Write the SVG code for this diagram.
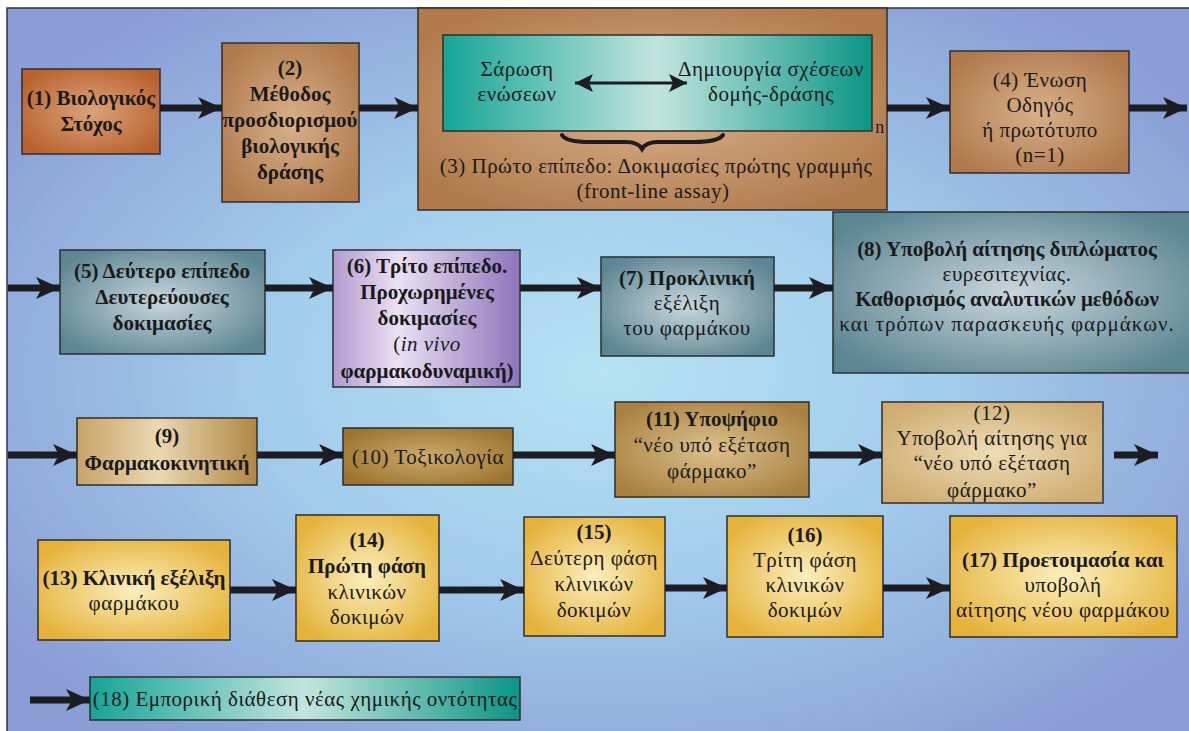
<svg xmlns="http://www.w3.org/2000/svg" width="1189" height="731" viewBox="0 0 1189 731">
<style>
.t{font-family:"Liberation Serif",serif;font-size:21px;letter-spacing:0.5px;fill:#1a1a1a;text-anchor:middle}
.b{font-weight:bold;letter-spacing:0}
.box{stroke:#2e2e2e;stroke-width:1.5}
.con{stroke:#1c1c22;stroke-width:7;fill:none;marker-end:url(#ah)}
</style>
<defs>
<radialGradient id="bg" cx="0.5" cy="0.5" r="0.62">
<stop offset="0" stop-color="#b6e2f4"/><stop offset="0.45" stop-color="#a3cdec"/><stop offset="1" stop-color="#8a9dd5"/>
</radialGradient>
<radialGradient id="g1" cx="0.5" cy="0.5" r="0.6"><stop offset="0" stop-color="#dca27a"/><stop offset="1" stop-color="#b9622e"/></radialGradient>
<radialGradient id="gTan" cx="0.5" cy="0.5" r="0.6"><stop offset="0" stop-color="#d9b08a"/><stop offset="1" stop-color="#b07a4c"/></radialGradient>
<linearGradient id="gTeal" x1="0" y1="0" x2="1" y2="0"><stop offset="0" stop-color="#16a596"/><stop offset="0.5" stop-color="#c2e5de"/><stop offset="1" stop-color="#0a9585"/></linearGradient>
<radialGradient id="gSlate" cx="0.5" cy="0.5" r="0.6"><stop offset="0" stop-color="#c9d6dc"/><stop offset="1" stop-color="#5d8693"/></radialGradient>
<linearGradient id="gPurple" x1="0" y1="0" x2="1" y2="0"><stop offset="0" stop-color="#b29cd0"/><stop offset="0.35" stop-color="#ebe0f2"/><stop offset="1" stop-color="#8d74bc"/></linearGradient>
<linearGradient id="g9" x1="0" y1="0" x2="1" y2="0"><stop offset="0" stop-color="#c7a367"/><stop offset="0.45" stop-color="#ebd8b2"/><stop offset="1" stop-color="#b08744"/></linearGradient>
<radialGradient id="g10" cx="0.5" cy="0.5" r="0.6"><stop offset="0" stop-color="#ccab6c"/><stop offset="1" stop-color="#9c7430"/></radialGradient>
<radialGradient id="g11" cx="0.5" cy="0.5" r="0.6"><stop offset="0" stop-color="#dcc08c"/><stop offset="1" stop-color="#a98242"/></radialGradient>
<radialGradient id="g12" cx="0.5" cy="0.5" r="0.6"><stop offset="0" stop-color="#eedbb6"/><stop offset="1" stop-color="#cfad72"/></radialGradient>
<radialGradient id="gGold" cx="0.5" cy="0.5" r="0.6"><stop offset="0" stop-color="#fbefbd"/><stop offset="1" stop-color="#e5b23a"/></radialGradient>
<marker id="ah" markerUnits="userSpaceOnUse" markerWidth="26" markerHeight="24" refX="24" refY="12" orient="auto">
<path d="M0,1 L24,12 L0,23 L6,12 z" fill="#1c1c22"/>
</marker>
<marker id="ah2" markerUnits="userSpaceOnUse" markerWidth="20" markerHeight="18" refX="18" refY="9" orient="auto-start-reverse">
<path d="M0,0 L18,9 L0,18 L4,9 z" fill="#1c1c22"/>
</marker>
</defs>
<rect x="0" y="0" width="1189" height="731" fill="#ffffff"/>
<rect x="7" y="8" width="1190" height="730" fill="url(#bg)" stroke="#2a3550" stroke-width="1.5"/>

<g id="n1"><rect class="box" x="22" y="69" width="138" height="85" fill="url(#g1)"/>
<text class="t b" x="91" y="105">(1) Βιολογικός</text><text class="t b" x="91" y="131">Στόχος</text></g>

<g id="n2"><rect class="box" x="222" y="43" width="137" height="159" fill="url(#gTan)"/>
<text class="t b" x="290" y="75">(2)</text><text class="t b" x="290" y="101">Μέθοδος</text><text class="t b" x="290" y="127">προσδιορισμού</text><text class="t b" x="290" y="153">βιολογικής</text><text class="t b" x="290" y="179">δράσης</text></g>

<g id="n3"><rect class="box" x="418" y="8" width="469" height="202" fill="url(#gTan)"/>
<rect class="box" x="443" y="35" width="429" height="96" fill="url(#gTeal)"/>
<text class="t" x="517" y="76">Σάρωση</text><text class="t" x="517" y="101">ενώσεων</text>
<text class="t" x="771" y="76">Δημιουργία σχέσεων</text><text class="t" x="771" y="101">δομής-δράσης</text>
<line x1="575" y1="83" x2="687" y2="83" stroke="#1c1c22" stroke-width="3" marker-start="url(#ah2)" marker-end="url(#ah2)"/>
<path d="M562,135 Q566,142 590,142 L626,142 Q638,142 642,149 Q646,142 658,142 L694,142 Q718,142 723,135" fill="none" stroke="#1c1c22" stroke-width="4" stroke-linecap="round"/>
<text class="t" x="880" y="133" style="font-size:18px">n</text>
<text class="t" x="656" y="173">(3) Πρώτο επίπεδο: Δοκιμασίες πρώτης γραμμής</text>
<text class="t" x="653" y="198">(front-line assay)</text></g>

<g id="n4"><rect class="box" x="950" y="51" width="179" height="122" fill="url(#gTan)"/>
<text class="t" x="1040" y="87">(4) Ένωση</text><text class="t" x="1040" y="112">Οδηγός</text><text class="t" x="1040" y="137">ή πρωτότυπο</text><text class="t" x="1040" y="162">(n=1)</text></g>

<g id="n5"><rect class="box" x="60" y="250" width="205" height="104" fill="url(#gSlate)"/>
<text class="t b" x="162" y="278">(5) Δεύτερο επίπεδο</text><text class="t b" x="162" y="304">Δευτερεύουσες</text><text class="t b" x="162" y="330">δοκιμασίες</text></g>

<g id="n6"><rect class="box" x="333" y="250" width="187" height="137" fill="url(#gPurple)"/>
<text class="t b" x="427" y="273">(6) Τρίτο επίπεδο.</text><text class="t b" x="427" y="299">Προχωρημένες</text><text class="t b" x="427" y="325">δοκιμασίες</text><text class="t" x="427" y="351">(<tspan font-style="italic">in vivo</tspan></text><text class="t b" x="427" y="378">φαρμακοδυναμική)</text></g>

<g id="n7"><rect class="box" x="601" y="257" width="173" height="99" fill="url(#gSlate)"/>
<text class="t b" x="687" y="285">(7) Προκλινική</text><text class="t" x="687" y="310">εξέλιξη</text><text class="t" x="687" y="335">του φαρμάκου</text></g>

<g id="n8"><rect class="box" x="833" y="212" width="360" height="161" fill="url(#gSlate)"/>
<text class="t b" x="1007" y="256">(8) Υποβολή αίτησης διπλώματος</text><text class="t" x="1007" y="281">ευρεσιτεχνίας.</text><text class="t b" x="1007" y="306">Καθορισμός αναλυτικών μεθόδων</text><text class="t" x="1007" y="331" style="letter-spacing:1px">και τρόπων παρασκευής φαρμάκων.</text></g>

<g id="n9"><rect class="box" x="77" y="418" width="180" height="67" fill="url(#g9)"/>
<text class="t b" x="167" y="443">(9)</text><text class="t b" x="167" y="470">Φαρμακοκινητική</text></g>

<g id="n10"><rect class="box" x="343" y="428" width="170" height="57" fill="url(#g10)"/>
<text class="t" x="428" y="464">(10) Τοξικολογία</text></g>

<g id="n11"><rect class="box" x="615" y="402" width="194" height="95" fill="url(#g11)"/>
<text class="t b" x="712" y="426">(11) Υποψήφιο</text><text class="t" x="712" y="452">“νέο υπό εξέταση</text><text class="t" x="712" y="478">φάρμακο”</text></g>

<g id="n12"><rect class="box" x="882" y="402" width="221" height="101" fill="url(#g12)"/>
<text class="t" x="992" y="420">(12)</text><text class="t" x="992" y="445">Υποβολή αίτησης για</text><text class="t" x="992" y="470">“νέο υπό εξέταση</text><text class="t" x="992" y="497">φάρμακο”</text></g>

<g id="n13"><rect class="box" x="38" y="540" width="192" height="100" fill="url(#gGold)"/>
<text class="t b" x="134" y="585">(13) Κλινική εξέλιξη</text><text class="t" x="134" y="610">φαρμάκου</text></g>

<g id="n14"><rect class="box" x="296" y="515" width="143" height="126" fill="url(#gGold)"/>
<text class="t b" x="367" y="547">(14)</text><text class="t b" x="367" y="573">Πρώτη φάση</text><text class="t" x="367" y="599">κλινικών</text><text class="t" x="367" y="624">δοκιμών</text></g>

<g id="n15"><rect class="box" x="524" y="517" width="141" height="119" fill="url(#gGold)"/>
<text class="t b" x="594" y="539">(15)</text><text class="t" x="594" y="565">Δεύτερη φάση</text><text class="t" x="594" y="591">κλινικών</text><text class="t" x="594" y="617">δοκιμών</text></g>

<g id="n16"><rect class="box" x="727" y="516" width="156" height="121" fill="url(#gGold)"/>
<text class="t b" x="805" y="542">(16)</text><text class="t" x="805" y="567">Τρίτη φάση</text><text class="t" x="805" y="592">κλινικών</text><text class="t" x="805" y="617">δοκιμών</text></g>

<g id="n17"><rect class="box" x="950" y="516" width="227" height="121" fill="url(#gGold)"/>
<text class="t b" x="1063" y="567">(17) Προετοιμασία και</text><text class="t" x="1063" y="592">υποβολή</text><text class="t" x="1063" y="617">αίτησης νέου φαρμάκου</text></g>

<g id="n18"><rect class="box" x="90" y="677" width="430" height="43" fill="url(#gTeal)"/>
<text class="t" x="305" y="706">(18) Εμπορική διάθεση νέας χημικής οντότητας</text></g>

<g id="connectors">
<line class="con" x1="160" y1="108" x2="222" y2="108"/>
<line class="con" x1="359" y1="108" x2="418" y2="108"/>
<line class="con" x1="887" y1="108" x2="950" y2="108"/>
<line class="con" x1="1129" y1="108" x2="1187" y2="108"/>
<line class="con" x1="8" y1="288" x2="60" y2="288"/>
<line class="con" x1="265" y1="288" x2="333" y2="288"/>
<line class="con" x1="520" y1="288" x2="601" y2="288"/>
<line class="con" x1="774" y1="288" x2="833" y2="288"/>
<line class="con" x1="8" y1="455" x2="77" y2="455"/>
<line class="con" x1="257" y1="455" x2="343" y2="455"/>
<line class="con" x1="513" y1="455" x2="615" y2="455"/>
<line class="con" x1="809" y1="455" x2="882" y2="455"/>
<line class="con" x1="1114" y1="455" x2="1158" y2="455"/>
<line class="con" x1="230" y1="590" x2="296" y2="590"/>
<line class="con" x1="439" y1="590" x2="524" y2="590"/>
<line class="con" x1="665" y1="588" x2="727" y2="588"/>
<line class="con" x1="883" y1="588" x2="950" y2="588"/>
<line class="con" x1="30" y1="700" x2="90" y2="700"/>
</g>
</svg>
